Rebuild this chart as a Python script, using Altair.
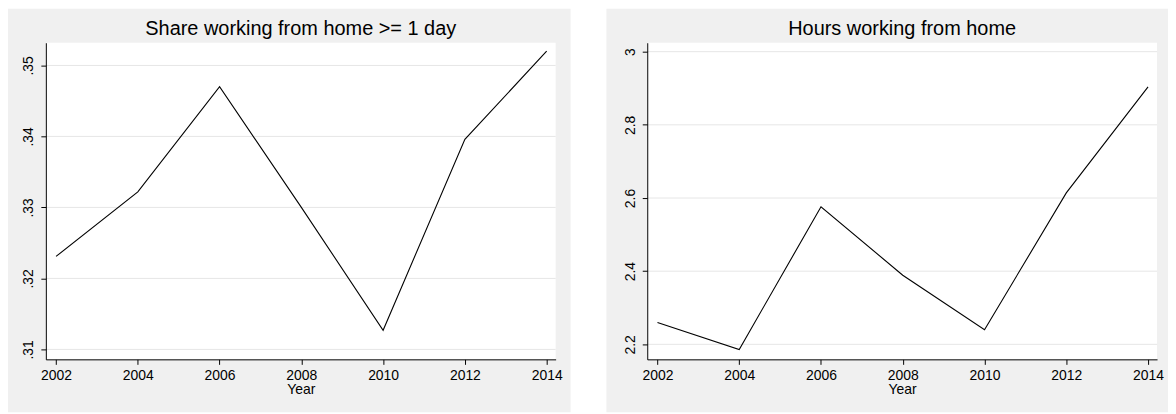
import altair as alt
import pandas as pd

years = [2002, 2004, 2006, 2008, 2010, 2012, 2014]
share_wfh = [0.3231, 0.3322, 0.3470, 0.3300, 0.3127, 0.3396, 0.3520]
hours_wfh = [2.260, 2.186, 2.576, 2.389, 2.240, 2.614, 2.904]
year_ticks = [2002, 2004, 2006, 2008, 2010, 2012, 2014]
share_ticks = [0.31, 0.32, 0.33, 0.34, 0.35]
hours_ticks = [2.2, 2.4, 2.6, 2.8, 3.0]
panel_titles = ["Share working from home >= 1 day", "Hours working from home"]

W, H = 512, 318
FONT = "Liberation Sans"
BG = "#f0f0f0"
GRID = "#e6e6e6"


def panel(values, ticks, ydomain, title, label_expr, left, right):
    df = pd.DataFrame({"Year": years, "v": values})
    gdf = pd.DataFrame({"v": ticks})
    one = pd.DataFrame({"a": [0]})

    xscale = alt.Scale(domain=[2001.75, 2014.22], nice=False, zero=False)
    yscale = alt.Scale(domain=ydomain, nice=False, zero=False)
    yaxis = alt.Axis(values=ticks, labelExpr=label_expr, title=None, grid=False,
                     labelAngle=270, labelAlign="center", labelBaseline="bottom",
                     labelPadding=5, zindex=1)
    xaxis = alt.Axis(values=year_ticks, format="d", title="Year", grid=False,
                     labelPadding=4, titlePadding=0, zindex=1, labelFlush=False)

    bg = alt.Chart(one).mark_rect(color=BG, clip=False).encode(
        x=alt.value(left), x2=alt.value(W + right),
        y=alt.value(-34), y2=alt.value(H + 53))
    plot_bg = alt.Chart(one).mark_rect(color="white").encode(
        x=alt.value(0), x2=alt.value(W), y=alt.value(0), y2=alt.value(H))
    grid = alt.Chart(gdf).mark_rule(color=GRID, strokeWidth=1).encode(
        y=alt.Y("v:Q", scale=yscale, axis=yaxis))
    line = alt.Chart(df).mark_line(color="black", strokeWidth=1.1).encode(
        x=alt.X("Year:Q", scale=xscale, axis=xaxis),
        y=alt.Y("v:Q", scale=yscale, axis=yaxis))

    return alt.layer(bg, plot_bg, grid, line).properties(
        width=W, height=H,
        title=alt.TitleParams(text=title, fontSize=20, font=FONT, fontWeight="normal",
                              color="black", offset=-46, frame="group",
                              anchor="middle", baseline="alphabetic", zindex=1))


left_panel = panel(share_wfh, share_ticks, [0.3086, 0.3532], panel_titles[0],
                   "substring(format(datum.value, '.2f'), 1)", -38, 15)
right_panel = panel(hours_wfh, hours_ticks, [2.159, 3.0245], panel_titles[1],
                    "format(datum.value, '~g')", -41, 11)

chart = alt.hconcat(left_panel, right_panel, spacing=36).properties(
    padding=0, background="white"
).configure_view(strokeWidth=0).configure_axis(
    labelFont=FONT, labelFontSize=14, labelColor="black",
    titleFont=FONT, titleFontSize=14, titleFontWeight="normal", titleColor="black",
    domainColor="black", domainWidth=1, tickColor="black", tickSize=5, tickWidth=1
)

chart.save("out.html", embed_options={"renderer": "svg", "actions": False})
